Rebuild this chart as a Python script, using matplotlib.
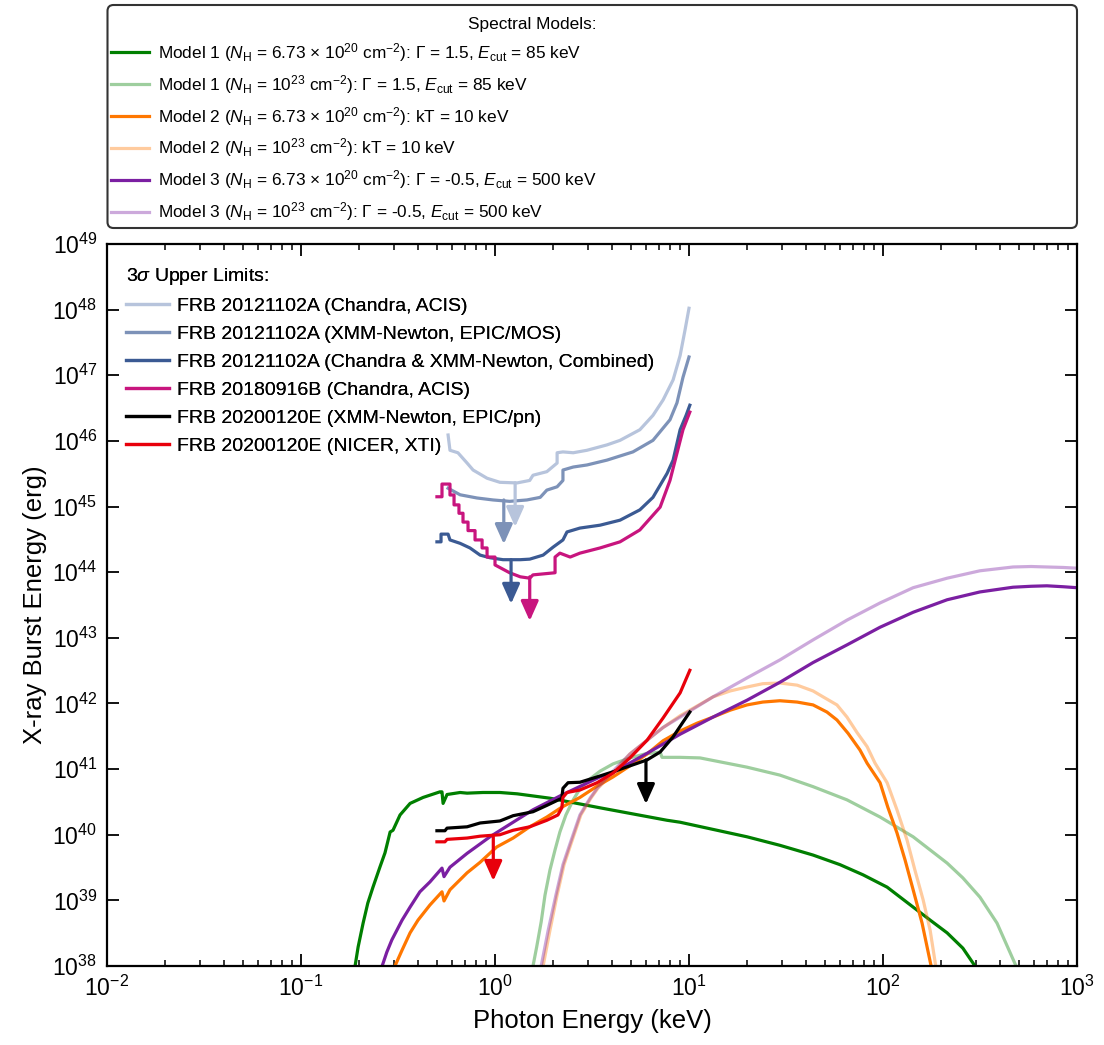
import matplotlib
matplotlib.use("Agg")
import matplotlib.pyplot as plt
from matplotlib.patches import FancyBboxPatch

plt.rcParams['font.family'] = ['Liberation Sans', 'DejaVu Sans']
plt.rcParams['mathtext.fontset'] = 'custom'
plt.rcParams['mathtext.rm'] = 'Liberation Sans'
plt.rcParams['mathtext.it'] = 'Liberation Sans:italic'
plt.rcParams['mathtext.bf'] = 'Liberation Sans:bold'

# ---------------- data (photon energy in keV, burst energy in erg) ----------------
m1_E = [0.190, 0.197, 0.209, 0.221, 0.235, 0.255, 0.271, 0.288, 0.298, 0.324, 0.365, 0.426, 0.520,
        0.533, 0.540, 0.566, 0.661, 0.718, 0.867, 1.06, 1.30, 1.92, 3.48, 7.71, 9.0, 19.9, 29.4,
        43.6, 60.0, 78.9, 105, 143, 175, 214, 258, 298]
m1_L = [1.0e38, 1.95e38, 4.5e38, 9.1e38, 1.59e39, 3.2e39, 5.3e39, 1.1e40, 1.17e40, 2.0e40, 3.0e40,
        3.7e40, 4.5e40, 4.5e40, 3.0e40, 4.1e40, 4.4e40, 4.3e40, 4.4e40, 4.4e40, 4.2e40, 3.6e40,
        2.57e40, 1.66e40, 1.55e40, 9.3e39, 6.9e39, 4.9e39, 3.5e39, 2.45e39, 1.59e39, 7.9e38, 5.0e38,
        3.2e38, 1.87e38, 1.0e38]

m1h_E = [1.57, 1.64, 1.73, 1.81, 1.92, 2.04, 2.16, 2.32, 2.53, 2.74, 3.09, 3.48, 4.06, 4.96, 5.93,
         7.10, 7.26, 9.0, 11.4, 19.9, 29.4, 43.6, 65.2, 96.6, 143, 214, 258, 316, 387, 485]
m1h_L = [1.0e38, 1.95e38, 4.7e38, 1.2e39, 2.9e39, 5.9e39, 1.1e40, 2.0e40, 3.4e40, 5.0e40, 7.1e40,
         9.3e40, 1.2e41, 1.48e41, 1.70e41, 1.82e41, 1.51e41, 1.51e41, 1.48e41, 1.07e41, 8.1e40,
         5.4e40, 3.4e40, 1.86e40, 9.3e39, 3.7e39, 2.2e39, 1.12e39, 4.5e38, 1.0e38]

m2_E = [0.305, 0.332, 0.365, 0.401, 0.462, 0.533, 0.546, 0.586, 0.718, 0.838, 1.02, 1.24, 1.51, 1.85,
        2.21, 2.74, 3.36, 4.06, 4.96, 6.08, 7.35, 9.0, 11.0, 13.3, 16.3, 19.9, 24.0, 29.4, 36.1,
        43.6, 51.4, 57.9, 66.1, 76.1, 82.8, 96.6, 106, 118, 130, 143, 159, 177]
m2_L = [1.0e38, 1.75e38, 3.2e38, 5.0e38, 8.5e38, 1.35e39, 9.8e38, 1.45e39, 2.63e39, 3.8e39, 6.5e39,
        8.9e39, 1.32e40, 1.86e40, 2.63e40, 3.7e40, 5.5e40, 7.6e40, 1.12e41, 1.70e41, 2.7e41, 3.8e41,
        5.0e41, 6.2e41, 7.9e41, 9.5e41, 1.05e42, 1.10e42, 1.05e42, 9.5e41, 7.4e41, 5.6e41, 3.5e41,
        1.95e41, 1.23e41, 6.2e40, 2.6e40, 1.07e40, 4.1e39, 1.45e39, 4.5e38, 1.0e38]

m2h_E = [1.77, 1.92, 2.09, 2.27, 2.47, 2.77, 3.12, 3.39, 4.06, 4.96, 6.08, 7.35, 9.0, 13.3, 16.3,
         19.9, 24.0, 29.4, 36.1, 43.6, 49.1, 57.9, 65.2, 73.5, 82.8, 91.0, 105, 118, 133, 146, 161,
         175, 187]
m2h_L = [1.0e38, 3.5e38, 1.2e39, 3.5e39, 7.4e39, 2.0e40, 3.6e40, 5.1e40, 8.7e40, 1.7e41, 2.75e41,
         4.3e41, 6.5e41, 1.26e42, 1.55e42, 1.78e42, 2.0e42, 2.05e42, 1.9e42, 1.55e42, 1.26e42,
         9.5e41, 6.2e41, 3.6e41, 2.2e41, 1.23e41, 6.2e40, 2.4e40, 8.3e39, 2.9e39, 1.02e39, 3.5e38,
         1.0e38]

m3_E = [0.262, 0.277, 0.294, 0.332, 0.365, 0.410, 0.462, 0.533, 0.546, 0.586, 0.718, 0.942, 1.24,
        1.57, 2.20, 3.48, 4.06, 6.08, 9.0, 13.3, 19.9, 29.4, 43.6, 65.2, 96.6, 143, 214, 316, 468,
        580, 700, 850, 1000]
m3_L = [1.0e38, 1.63e38, 2.5e38, 5.0e38, 7.9e38, 1.35e39, 1.91e39, 3.1e39, 2.3e39, 3.2e39, 5.2e39,
        9.3e39, 1.55e40, 2.4e40, 4.0e40, 7.6e40, 8.9e40, 1.74e41, 3.4e41, 6.2e41, 1.12e42, 2.1e42,
        4.2e42, 7.8e42, 1.45e43, 2.45e43, 3.8e43, 5.0e43, 5.9e43, 6.1e43, 6.2e43, 6.0e43, 5.8e43]

m3h_E = [1.73, 1.88, 2.06, 2.24, 2.44, 2.74, 3.09, 3.36, 4.06, 4.96, 6.08, 7.35, 9.0, 13.3, 19.9,
         29.4, 43.6, 65.2, 96.6, 143, 214, 316, 468, 580, 700, 850, 1000]
m3h_L = [1.0e38, 3.5e38, 1.2e39, 3.5e39, 7.4e39, 2.0e40, 3.6e40, 5.1e40, 9.3e40, 1.7e41, 2.75e41,
         4.3e41, 6.2e41, 1.26e42, 2.45e42, 4.6e42, 9.3e42, 1.86e43, 3.4e43, 5.8e43, 8.1e43, 1.05e44,
         1.20e44, 1.22e44, 1.20e44, 1.18e44, 1.15e44]

# 3-sigma upper limits
r1_E = [0.573, 0.586, 0.644, 0.718, 0.771, 0.910, 1.06, 1.30, 1.51, 1.57, 1.85, 2.09, 2.09, 2.24,
        2.53, 2.98, 3.78, 4.41, 5.58, 6.52, 7.35, 8.28, 9.0, 9.54, 10.0]
r1_L = [1.23e46, 7.2e45, 6.6e45, 4.6e45, 3.6e45, 2.7e45, 2.34e45, 2.29e45, 2.5e45, 3.0e45, 3.4e45,
        4.6e45, 6.6e45, 6.8e45, 6.6e45, 7.2e45, 8.7e45, 1.02e46, 1.48e46, 2.45e46, 4.2e46, 8.5e46,
        2.0e47, 4.9e47, 1.05e48]

r2_E = [0.573, 0.661, 0.808, 0.977, 1.19, 1.46, 1.71, 1.85, 2.09, 2.24, 2.24, 2.53, 2.98, 3.78, 5.14,
        6.52, 7.98, 8.67, 9.31, 10.0]
r2_L = [1.9e45, 1.51e45, 1.35e45, 1.26e45, 1.20e45, 1.26e45, 1.38e45, 1.78e45, 2.0e45, 2.5e45, 3.6e45,
        4.0e45, 4.3e45, 5.1e45, 6.8e45, 1.02e46, 2.1e46, 3.8e46, 9.3e46, 1.9e47]

r3_E = [0.502, 0.527, 0.527, 0.573, 0.586, 0.661, 0.743, 0.838, 0.942, 1.10, 1.35, 1.51, 1.77, 1.99,
        2.24, 2.35, 2.74, 3.48, 4.41, 5.58, 6.52, 7.71, 8.28, 9.0, 9.66, 10.1]
r3_L = [2.9e44, 2.9e44, 3.8e44, 3.8e44, 3.1e44, 2.75e44, 2.34e44, 1.82e44, 1.66e44, 1.55e44, 1.55e44,
        1.58e44, 1.82e44, 2.4e44, 3.1e44, 4.1e44, 4.7e44, 5.2e44, 6.2e44, 8.9e44, 1.38e45, 3.2e45,
        5.1e45, 1.48e46, 2.45e46, 3.5e46]

r4_E = [0.502, 0.533, 0.533, 0.586, 0.586, 0.615, 0.615, 0.652, 0.652, 0.684, 0.684, 0.726, 0.726,
        0.789, 0.789, 0.858, 0.858, 0.910, 0.910, 1.0, 1.0, 1.19, 1.35, 1.51, 1.57, 2.04, 2.04, 2.16,
        2.44, 2.74, 3.48, 4.41, 5.58, 7.10, 7.98, 9.31, 10.1]
r4_L = [1.41e45, 1.41e45, 2.2e45, 2.2e45, 1.5e45, 1.5e45, 1.06e45, 1.06e45, 7.9e44, 7.9e44, 5.8e44,
        5.8e44, 4.3e44, 4.3e44, 3.1e44, 3.1e44, 2.34e44, 2.34e44, 1.7e44, 1.7e44, 1.29e44, 9.8e43,
        8.5e43, 8.1e43, 9.1e43, 9.8e43, 1.7e44, 1.95e44, 1.7e44, 1.95e44, 2.34e44, 2.9e44, 4.4e44,
        9.8e44, 2.5e45, 1.48e46, 2.75e46]

r5_E = [0.502, 0.552, 0.566, 0.718, 0.838, 1.06, 1.24, 1.57, 1.85, 2.21, 2.24, 2.38, 2.74, 3.36, 4.06,
        4.96, 6.08, 7.10, 8.28, 9.31, 10.1]
r5_L = [1.15e40, 1.15e40, 1.26e40, 1.32e40, 1.51e40, 1.62e40, 1.95e40, 2.24e40, 2.8e40, 3.6e40, 5.1e40,
        6.2e40, 6.3e40, 7.6e40, 9.1e40, 1.12e41, 1.38e41, 1.82e41, 3.1e41, 5.2e41, 7.4e41]

r6_E = [0.502, 0.552, 0.566, 0.718, 0.838, 1.06, 1.24, 1.51, 1.85, 2.11, 2.21, 2.24, 2.35, 2.74, 3.36,
        4.06, 4.96, 6.08, 7.35, 9.0, 10.1]
r6_L = [7.8e39, 7.8e39, 8.5e39, 8.9e39, 9.5e39, 1.0e40, 1.17e40, 1.32e40, 1.66e40, 2.0e40, 2.57e40,
        3.7e40, 4.4e40, 4.8e40, 6.2e40, 8.7e40, 1.48e41, 2.75e41, 6.0e41, 1.45e42, 3.2e42]

# arrow energies (keV) and arrow starting values (erg)
arrow_E = [1.27, 1.11, 1.21, 1.51, 6.0, 0.98]
arrow_L = [2.3e45, 1.26e45, 1.55e44, 8.5e43, 1.38e41, 9.3e39]

model_labels = [
    r'Model 1 ($N_\mathrm{H}$ = 6.73 × 10$^{20}$ cm$^{-2}$): Γ = 1.5, $E_\mathrm{cut}$ = 85 keV',
    r'Model 1 ($N_\mathrm{H}$ = 10$^{23}$ cm$^{-2}$): Γ = 1.5, $E_\mathrm{cut}$ = 85 keV',
    r'Model 2 ($N_\mathrm{H}$ = 6.73 × 10$^{20}$ cm$^{-2}$): kT = 10 keV',
    r'Model 2 ($N_\mathrm{H}$ = 10$^{23}$ cm$^{-2}$): kT = 10 keV',
    r'Model 3 ($N_\mathrm{H}$ = 6.73 × 10$^{20}$ cm$^{-2}$): Γ = -0.5, $E_\mathrm{cut}$ = 500 keV',
    r'Model 3 ($N_\mathrm{H}$ = 10$^{23}$ cm$^{-2}$): Γ = -0.5, $E_\mathrm{cut}$ = 500 keV',
]
ul_labels = [
    'FRB 20121102A (Chandra, ACIS)',
    'FRB 20121102A (XMM-Newton, EPIC/MOS)',
    'FRB 20121102A (Chandra & XMM-Newton, Combined)',
    'FRB 20180916B (Chandra, ACIS)',
    'FRB 20200120E (XMM-Newton, EPIC/pn)',
    'FRB 20200120E (NICER, XTI)',
]

# ---------------- styles ----------------
model_colors = ['#007f00', '#007f00', '#ff7700', '#ff7700', '#7b1fa2', '#7b1fa2']
model_alpha = [1.0, 0.38, 1.0, 0.38, 1.0, 0.38]
ul_colors = ['#b7c4dc', '#7d92b8', '#3b5a93', '#c8157e', '#000000', '#e8000b']
LW = 2.3

fig = plt.figure(figsize=(11.04, 10.45), dpi=100)
ax = fig.add_axes([107 / 1104, 1 - 966 / 1045, 970 / 1104, 722 / 1045])

model_data = [(m1_E, m1_L), (m1h_E, m1h_L), (m2_E, m2_L), (m2h_E, m2h_L), (m3_E, m3_L), (m3h_E, m3h_L)]
model_handles = []
for (E, L), c, a, lab in zip(model_data, model_colors, model_alpha, model_labels):
    ln, = ax.plot(E, L, color=c, alpha=a, lw=LW, zorder=2, label=lab, solid_joinstyle='round')
    model_handles.append(ln)

ul_data = [(r1_E, r1_L), (r2_E, r2_L), (r3_E, r3_L), (r4_E, r4_L), (r5_E, r5_L), (r6_E, r6_L)]
ul_handles = []
for (E, L), c, lab in zip(ul_data, ul_colors, ul_labels):
    ln, = ax.plot(E, L, color=c, lw=LW, zorder=3, label=lab)
    ul_handles.append(ln)

for e, l, c in zip(arrow_E, arrow_L, ul_colors):
    ax.annotate('', xy=(e, l / 4.7), xytext=(e, l),
                arrowprops=dict(arrowstyle='-|>,head_length=0.85,head_width=0.38', color=c,
                                lw=LW, mutation_scale=14, shrinkA=0, shrinkB=0),
                zorder=4)

ax.set_xscale('log')
ax.set_yscale('log')
ax.set_xlim(1e-2, 1e3)
ax.set_ylim(1e38, 1e49)
ax.set_yticks([10.0 ** k for k in range(38, 50)])
ax.tick_params(which='both', direction='in', top=True, right=True, labelsize=16.5)
ax.tick_params(which='major', length=8.5, width=1.3, pad=7)
ax.tick_params(which='minor', length=4.5, width=1.1)
for s in ax.spines.values():
    s.set_linewidth(1.6)
ax.set_xlabel('Photon Energy (keV)', fontsize=18.5, labelpad=6)
ax.set_ylabel('X-ray Burst Energy (erg)', fontsize=18.5, labelpad=4)

leg1 = ax.legend(handles=ul_handles, loc='upper left', bbox_to_anchor=(-0.003, 1.0),
                 frameon=False, fontsize=14, title=r'3$\sigma$ Upper Limits:', title_fontsize=14,
                 alignment='left', handlelength=2.2, handletextpad=0.4, labelspacing=0.53,
                 borderaxespad=0.9, borderpad=0.25)
ax.add_artist(leg1)

leg2 = fig.legend(handles=model_handles, loc='upper left', bbox_to_anchor=(111 / 1104, 1 - 17 / 1045),
                  frameon=False, fontsize=12.4, title='Spectral Models:', title_fontsize=12.4,
                  alignment='right', handlelength=2.2, handletextpad=0.5, labelspacing=0.52,
                  borderpad=0.0, borderaxespad=0.0)

box = FancyBboxPatch((1.075, 10.45 - 2.28), 9.695, 2.23,
                     boxstyle='round,pad=0,rounding_size=0.06',
                     transform=fig.dpi_scale_trans, facecolor='none', edgecolor='#333333', lw=1.5)
fig.add_artist(box)

fig.savefig('out.png', dpi=100)
